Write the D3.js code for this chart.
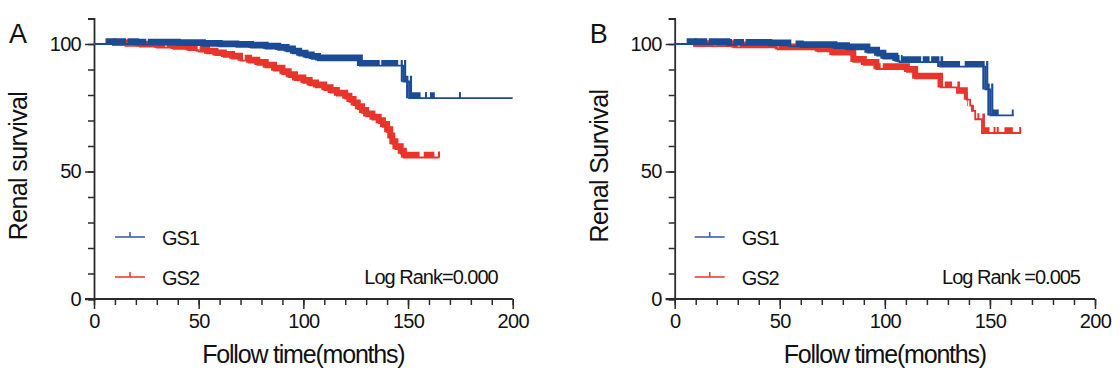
<!DOCTYPE html>
<html>
<head>
<meta charset="utf-8">
<script src="https://cdn.jsdelivr.net/npm/d3@7"></script>
<style>
  html, body { margin: 0; padding: 0; background: #fff; }
  svg { display: block; font-family: "Liberation Sans", Arial, Helvetica, sans-serif; }
</style>
</head>
<body>
<svg id="chart" width="1120" height="378"></svg>
<script>
// ---------- data ----------
const xTickMajor = [0, 50, 100, 150, 200];
const xTickMinor = d3.range(0, 201, 10);
const yTickMajor = [0, 50, 100];
const yTickMinor = d3.range(0, 111, 10);

const seriesNames = ["GS1", "GS2"];
const seriesColors = ["#1c4b95", "#e8342a"];

// Panel A
const aGS1Time = [0, 20, 40, 52, 60, 68, 75, 82, 88, 92, 95, 98, 101, 104, 107, 127, 147.7, 150.5, 200];
const aGS1Surv = [100, 99.8, 99.6, 99.3, 99.1, 98.9, 98.6, 98.2, 97.7, 97.1, 96.3, 95.5, 94.8, 94.2, 93.6, 91.5, 85.3, 78.8, 78.8];
const aGS1CensorBands = [[5.5, 15.3], [16, 25], [25.7, 93.5], [93.5, 127.2], [127.2, 136.5], [137.2, 145.3], [146.5, 147.5], [148.1, 150.2], [150.9, 156], [160.5, 162.8]];
const aGS1CensorTicks = [158.6, 174.8];

const aGS2Time = [0, 9, 15, 22, 30, 38, 45, 50, 54, 58, 62, 66, 70, 74, 78, 82, 86, 90, 93, 96, 100, 103, 106, 110, 113, 116, 120, 122, 124, 126, 128, 130, 133, 136, 138, 140, 141.5, 142.5, 144, 146.5, 148, 165];
const aGS2Surv = [100, 99.6, 99.3, 99.0, 98.6, 98.1, 97.6, 97.0, 96.3, 95.6, 95.0, 94.3, 93.5, 92.7, 91.8, 90.8, 89.6, 88.2, 87.0, 85.8, 84.8, 83.8, 83.0, 81.9, 80.9, 79.8, 78.6, 77.3, 76.0, 74.5, 73.0, 71.6, 70.4, 69.0, 67.5, 65.5, 63.0, 60.8, 58.8, 57.0, 55.5, 55.5];
const aGS2CensorBands = [[9, 34], [34.7, 49.5], [50.5, 71.2], [72, 147], [147, 155.5], [157.5, 162.6]];
const aGS2CensorTicks = [164.8];

// Panel B
const bGS1Time = [0, 25, 45, 55, 60, 76, 82, 91.7, 96.3, 99.3, 105, 107, 126.3, 147.8, 150.2, 161.3];
const bGS1Surv = [100, 99.7, 99.5, 99.1, 98.8, 98.4, 97.9, 96.6, 95.5, 94.3, 93.4, 92.9, 91.1, 82.2, 72.0, 72.0];
const bGS1CensorBands = [[5.7, 15.5], [16.2, 27.3], [28, 33], [33.7, 55.5], [57.5, 107], [107.6, 117.3], [118, 121.3], [122, 126], [126.5, 135.8], [138, 147.5], [148.2, 149.9], [150.6, 154.2], [160.4, 162]];
const bGS1CensorTicks = [];

const bGS2Time = [0, 9.2, 28, 49, 68, 75, 85, 90, 96, 110.5, 114.4, 126.5, 134.3, 139, 140.6, 141.4, 143, 146.2, 164.8];
const bGS2Surv = [100, 99.2, 98.7, 97.9, 97.1, 95.8, 93.0, 91.8, 90.2, 89.1, 86.5, 83.0, 80.8, 78.2, 75.8, 73.8, 70.5, 65.1, 65.1];
const bGS2CensorBands = [[9.2, 19], [19.7, 30], [31, 48.7], [49.5, 98], [99, 127.7], [128.5, 132], [134.5, 139.5], [146.4, 149.8], [156.9, 160.9]];
const bGS2CensorTicks = [141.9, 144.5, 152.2, 153.7, 164.4];

const panels = [
  { letter: "A", yTitle: "Renal survival", logRank: "Log Rank=0.000",
    x0: 94, x1: 512.7,
    series: [
      { time: aGS2Time, surv: aGS2Surv, bands: aGS2CensorBands, ticks: aGS2CensorTicks, ci: 1 },
      { time: aGS1Time, surv: aGS1Surv, bands: aGS1CensorBands, ticks: aGS1CensorTicks, ci: 0 }
    ] },
  { letter: "B", yTitle: "Renal Survival", logRank: "Log Rank =0.005",
    x0: 674.7, x1: 1095,
    series: [
      { time: bGS2Time, surv: bGS2Surv, bands: bGS2CensorBands, ticks: bGS2CensorTicks, ci: 1 },
      { time: bGS1Time, surv: bGS1Surv, bands: bGS1CensorBands, ticks: bGS1CensorTicks, ci: 0 }
    ] }
];

// ---------- drawing ----------
const svg = d3.select("#chart");
const yTop = 18.5, yBottom = 299;
const axisColor = "#2b2b2b";
const textColor = "#111";

panels.forEach((p, pi) => {
  const x = d3.scaleLinear().domain([0, 200]).range([p.x0, p.x1]);
  const y = d3.scaleLinear().domain([0, 110]).range([yBottom, yTop]);
  const g = svg.append("g");

  const gxm = g.append("g").attr("transform", `translate(0,${yBottom})`)
    .call(d3.axisBottom(x).tickValues(xTickMinor).tickSize(6).tickFormat(""));
  const gym = g.append("g").attr("transform", `translate(${p.x0},0)`)
    .call(d3.axisLeft(y).tickValues(yTickMinor).tickSize(6).tickFormat(""));
  const gx = g.append("g").attr("transform", `translate(0,${yBottom})`)
    .call(d3.axisBottom(x).tickValues(xTickMajor).tickSize(10).tickPadding(5).tickFormat(d3.format("d")));
  const gy = g.append("g").attr("transform", `translate(${p.x0},0)`)
    .call(d3.axisLeft(y).tickValues(yTickMajor).tickSize(9).tickPadding(4).tickFormat(d3.format("d")));

  [gxm, gym, gx, gy].forEach(a => {
    a.selectAll("path.domain").attr("stroke", axisColor).attr("stroke-width", 1.8);
    a.selectAll(".tick line").attr("stroke", axisColor).attr("stroke-width", 1.5);
    a.selectAll(".tick text").attr("fill", textColor).attr("font-size", 20)
      .attr("letter-spacing", "-0.7px")
      .attr("font-family", "'Liberation Sans', Arial, sans-serif");
  });
  gxm.select("path.domain").attr("d", `M${p.x0 - 9},0H${p.x1}`);
  gx.select("path.domain").remove();
  gy.select("path.domain").remove();

  const line = d3.line().curve(d3.curveStepAfter)
    .x(d => x(d[0])).y(d => y(d[1]));

  p.series.forEach((s, si) => {
    const color = seriesColors[s.ci];
    const pts = s.time.map((t, i) => [t, s.surv[i]]);
    const clipId = `clip-${pi}-${si}`;
    const cp = svg.append("clipPath").attr("id", clipId);
    cp.selectAll("rect").data(s.bands).join("rect")
      .attr("x", d => x(d[0])).attr("width", d => x(d[1]) - x(d[0]))
      .attr("y", 0).attr("height", 378);
    g.append("path").datum(pts)
      .attr("d", line)
      .attr("fill", "none").attr("stroke", color)
      .attr("stroke-width", 6)
      .attr("transform", "translate(0,-2.8)")
      .attr("clip-path", `url(#${clipId})`);
    g.append("path").datum(pts)
      .attr("d", line)
      .attr("fill", "none").attr("stroke", color)
      .attr("stroke-width", 1.8);
    const survAt = t => {
      let v = s.surv[0];
      for (let i = 0; i < s.time.length; i++) if (s.time[i] <= t) v = s.surv[i];
      return v;
    };
    g.selectAll(null).data(s.ticks).join("line")
      .attr("x1", d => x(d)).attr("x2", d => x(d))
      .attr("y1", d => y(survAt(d))).attr("y2", d => y(survAt(d)) - 6)
      .attr("stroke", color).attr("stroke-width", 2);
  });

  // legend
  const lx = p.x0 + (pi === 0 ? 21 : 20);
  const legendY = [237, 277];
  seriesNames.forEach((name, i) => {
    const lc = i === 0 ? "#3d62a8" : "#ef3d33";
    const ly = legendY[i];
    g.append("line").attr("x1", lx).attr("x2", lx + 30).attr("y1", ly).attr("y2", ly)
      .attr("stroke", lc).attr("stroke-width", 1.6);
    g.append("line").attr("x1", lx + 15).attr("x2", lx + 15).attr("y1", ly).attr("y2", ly - 5)
      .attr("stroke", lc).attr("stroke-width", 1.6);
    g.append("text").attr("x", lx + 47).attr("y", ly + 8)
      .attr("font-size", 20).attr("letter-spacing", "-1px").attr("fill", textColor).text(name);
  });
  g.append("text").attr("x", p.x1 - 15).attr("y", 284).attr("text-anchor", "end")
    .attr("font-size", 20).attr("letter-spacing", "-1px").attr("fill", textColor).text(p.logRank);

  // axis titles
  g.append("text").attr("x", (p.x0 + p.x1) / 2).attr("y", 363).attr("text-anchor", "middle")
    .attr("font-size", 25).attr("letter-spacing", "-1.2px").attr("fill", textColor).text("Follow time(months)");
  g.append("text").attr("transform", `translate(${p.x0 - 67},166) rotate(-90)`)
    .attr("text-anchor", "middle").attr("font-size", 25).attr("letter-spacing", "-0.6px")
    .attr("fill", textColor).text(p.yTitle);

  // panel letter
  g.append("text").attr("x", p.x0 - 85).attr("y", 43).attr("font-size", 27)
    .attr("fill", textColor).text(p.letter);
});
</script>
</body>
</html>
